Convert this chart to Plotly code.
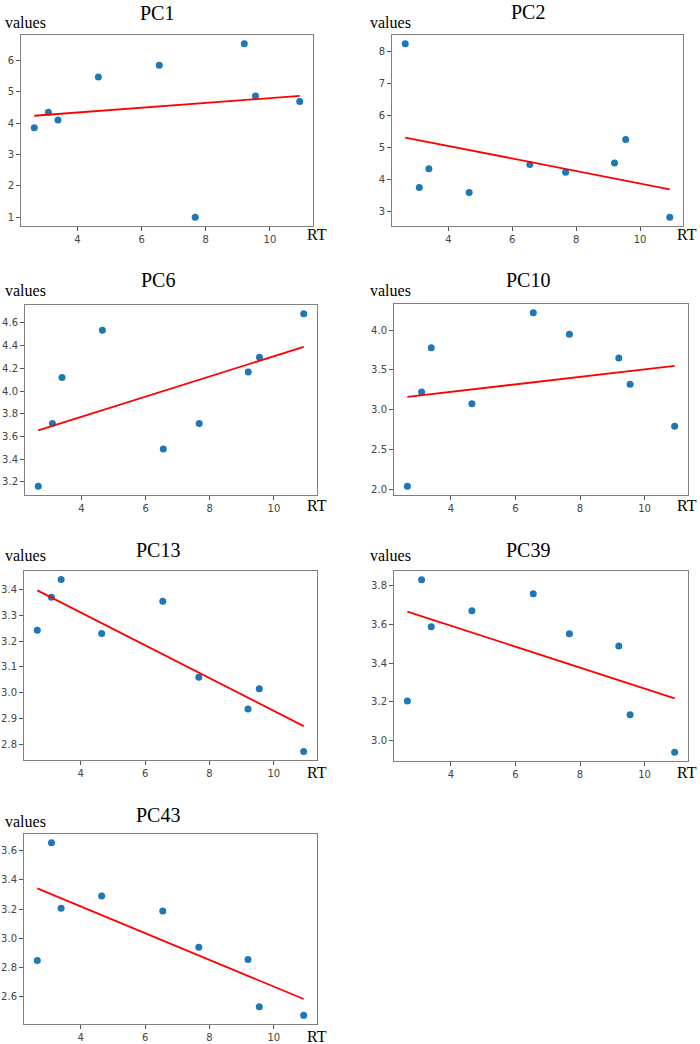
import numpy as np
import plotly.graph_objects as go

W, H = 700, 1044

rt = [2.65, 3.09, 3.39, 4.65, 6.55, 7.67, 9.2, 9.55, 10.93]
names = ["PC1", "PC2", "PC6", "PC10", "PC13", "PC39", "PC43"]
pc1 = [3.85, 4.35, 4.1, 5.47, 5.84, 1.0, 6.53, 4.86, 4.69]
pc2 = [8.23, 3.76, 4.34, 3.6, 4.47, 4.23, 4.52, 5.25, 2.83]
pc6 = [3.16, 3.715, 4.12, 4.535, 3.49, 3.715, 4.167, 4.298, 4.682]
pc10 = [2.034, 3.22, 3.777, 3.073, 4.218, 3.947, 3.648, 3.317, 2.789]
pc13 = [3.242, 3.369, 3.437, 3.229, 3.353, 3.06, 2.938, 3.016, 2.774]
pc39 = [3.203, 3.833, 3.588, 3.672, 3.76, 3.552, 3.488, 3.131, 2.936]
pc43 = [2.849, 3.655, 3.206, 3.29, 3.187, 2.939, 2.855, 2.532, 2.473]
series = [pc1, pc2, pc6, pc10, pc13, pc39, pc43]
ydticks = [1, 1, 0.2, 0.5, 0.1, 0.2, 0.2]
yfmts = ["d", "d", ".1f", ".1f", ".1f", ".1f", ".1f"]

# panel boxes in pixels: (left, right, top, bottom)
boxes = [(21, 313, 35, 226), (392, 683, 35, 226),
         (25, 317, 305, 495), (394, 688, 304, 495),
         (24, 317, 571, 760), (394, 688, 571, 761),
         (24, 317, 834, 1024)]
title_pos = [(157, 13), (528, 12), (158, 280), (528, 280), (158, 550), (528, 550), (158, 815)]
values_pos = [(3, 23), (368, 23), (3, 290), (368, 290), (3, 555), (368, 555), (3, 821)]
rt_pos = [(305, 234), (675, 234), (305, 505), (675, 505), (305, 772), (675, 772), (305, 1036)]

fig = go.Figure()
annotations = []
serif = "Liberation Serif, Times New Roman, serif"

def pad(vals):
    lo, hi = min(vals), max(vals)
    r = hi - lo
    return [lo - 0.05 * r, hi + 0.05 * r]

for i, (name, ys) in enumerate(zip(names, series)):
    k = i + 1
    xa = "x" if k == 1 else f"x{k}"
    ya = "y" if k == 1 else f"y{k}"
    slope, icpt = np.polyfit(rt, ys, 1)
    lx = np.array([min(rt), max(rt)])
    ly = slope * lx + icpt
    fig.add_trace(go.Scatter(x=rt, y=ys, mode="markers", xaxis=xa, yaxis=ya,
                             marker=dict(color="#1f77b4", size=7), showlegend=False))
    fig.add_trace(go.Scatter(x=lx, y=ly, mode="lines", xaxis=xa, yaxis=ya,
                             line=dict(color="red", width=1.8), showlegend=False))
    l, r, t, b = boxes[i]
    axcommon = dict(showline=True, mirror=True, linecolor="#808080", linewidth=1,
                    showgrid=False, zeroline=False, ticks="outside", ticklen=4,
                    tickwidth=1, tickcolor="#555555",
                    tickfont=dict(family="DejaVu Sans", size=10, color="#444444"))
    fig.update_layout(**{
        ("xaxis" if k == 1 else f"xaxis{k}"): dict(
            domain=[l / W, r / W], anchor=ya, range=pad(rt), tick0=0, dtick=2, **axcommon),
        ("yaxis" if k == 1 else f"yaxis{k}"): dict(
            domain=[1 - b / H, 1 - t / H], anchor=xa, range=pad(list(ys) + list(ly)),
            tick0=0, dtick=ydticks[i], tickformat=yfmts[i], **axcommon),
    })
    tx, ty = title_pos[i]
    annotations.append(dict(text=name, x=tx / W, y=1 - ty / H, xref="paper", yref="paper",
                            xanchor="center", yanchor="middle", showarrow=False,
                            font=dict(family=serif, size=20, color="black")))
    vx, vy = values_pos[i]
    annotations.append(dict(text="values", x=vx / W, y=1 - vy / H, xref="paper", yref="paper",
                            xanchor="left", yanchor="middle", showarrow=False,
                            font=dict(family=serif, size=16, color="black")))
    rx, ry = rt_pos[i]
    annotations.append(dict(text="RT", x=rx / W, y=1 - ry / H, xref="paper", yref="paper",
                            xanchor="left", yanchor="middle", showarrow=False,
                            font=dict(family=serif, size=16, color="black")))

fig.update_layout(width=W, height=H, margin=dict(l=0, r=0, t=0, b=0),
                  paper_bgcolor="white", plot_bgcolor="white",
                  annotations=annotations, showlegend=False)
fig.write_html("out.html")
